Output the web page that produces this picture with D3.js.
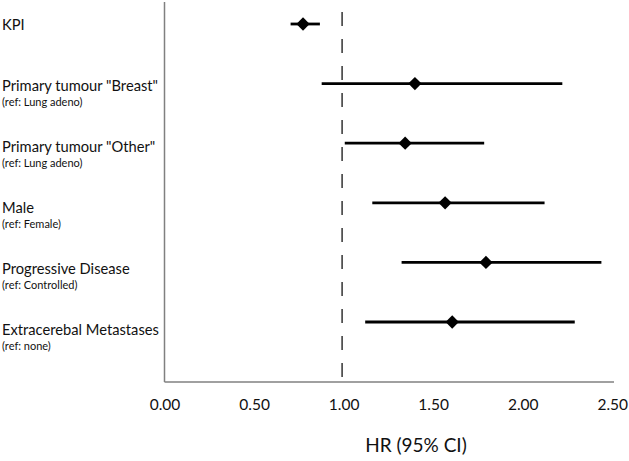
<!DOCTYPE html>
<html>
<head>
<meta charset="utf-8">
<script src="https://cdn.jsdelivr.net/npm/d3@7"></script>
<style>
  body { margin: 0; background: #fff; }
  text { font-family: Lato, "Open Sans", sans-serif; fill: #111; }
</style>
</head>
<body>
<div id="chart"></div>
<script>
const labels = ['KPI', 'Primary tumour "Breast"', 'Primary tumour "Other"', 'Male', 'Progressive Disease', 'Extracerebal Metastases'];
const refs = ['', '(ref: Lung adeno)', '(ref: Lung adeno)', '(ref: Female)', '(ref: Controlled)', '(ref: none)'];
const hr = [0.78, 1.41, 1.355, 1.58, 1.81, 1.62];
const lower = [0.71, 0.885, 1.015, 1.17, 1.335, 1.13];
const upper = [0.875, 2.24, 1.80, 2.14, 2.46, 2.31];
const ticks = [0, 0.5, 1, 1.5, 2, 2.5];

const width = 629;
const height = 461;

const data = labels.map((d, i) => ({ label: d, ref: refs[i], hr: hr[i], lo: lower[i], hi: upper[i] }));

const svg = d3.select('#chart')
    .append('svg')
    .attr('width', width)
    .attr('height', height);

const xScale = d3.scaleLinear()
    .domain([0, 2.5])
    .range([164.5, 608.5]);

const yScale = d3.scalePoint()
    .domain(labels)
    .range([24, 322]);

// labels drift slightly from the rows in the original
const labelY = d3.scalePoint()
    .domain(labels)
    .range([25, 330]);

// frame
svg.append('line')
    .attr('x1', 164.5).attr('x2', 164.5)
    .attr('y1', 2).attr('y2', 382)
    .attr('stroke', '#808080')
    .attr('stroke-width', 1.5);

svg.append('line')
    .attr('x1', 164.5).attr('x2', 614)
    .attr('y1', 382).attr('y2', 382)
    .attr('stroke', '#808080')
    .attr('stroke-width', 1.5);

// reference line at HR = 1
svg.append('line')
    .attr('x1', xScale(1)).attr('x2', xScale(1))
    .attr('y1', 12).attr('y2', 382)
    .attr('stroke', '#333')
    .attr('stroke-width', 1.5)
    .attr('stroke-dasharray', '14,13');

const xAxis = d3.axisBottom(xScale)
    .tickValues(ticks)
    .tickSize(0)
    .tickPadding(0)
    .tickFormat(d3.format('.2f'));

svg.append('g')
    .attr('id', 'x-axis')
    .attr('transform', 'translate(0, 410)')
    .call(xAxis)
    .call(g => g.select('.domain').remove())
    .call(g => g.selectAll('text')
        .attr('dy', 0)
        .attr('y', 0)
        .attr('dx', d => d * 1.5)
        .style('font-size', '15.5px')
        .style('font-family', 'Lato, sans-serif')
        .attr('fill', '#111'));

svg.append('text')
    .attr('x', 416)
    .attr('y', 452)
    .attr('text-anchor', 'middle')
    .style('font-size', '19px')
    .text('HR (95% CI)');

// row labels
svg.selectAll('.label')
    .data(data)
    .enter()
    .append('text')
    .attr('class', 'label')
    .attr('x', 2)
    .attr('y', d => labelY(d.label) + 5)
    .style('font-size', '14.7px')
    .text(d => d.label);

svg.selectAll('.ref')
    .data(data.filter(d => d.ref))
    .enter()
    .append('text')
    .attr('class', 'ref')
    .attr('x', 2)
    .attr('y', d => labelY(d.label) + 20)
    .style('font-size', '11px')
    .text(d => d.ref);

// confidence intervals
svg.selectAll('.ci')
    .data(data)
    .enter()
    .append('line')
    .attr('class', 'ci')
    .attr('x1', d => xScale(d.lo))
    .attr('x2', d => xScale(d.hi))
    .attr('y1', d => yScale(d.label))
    .attr('y2', d => yScale(d.label))
    .attr('stroke', '#000')
    .attr('stroke-width', 2.8);

// point estimates
svg.selectAll('.dot')
    .data(data)
    .enter()
    .append('path')
    .attr('class', 'dot')
    .attr('d', d3.symbol(d3.symbolSquare, 88))
    .attr('transform', d => `translate(${xScale(d.hr)}, ${yScale(d.label)}) rotate(45)`)
    .attr('fill', '#000');
</script>
</body>
</html>
